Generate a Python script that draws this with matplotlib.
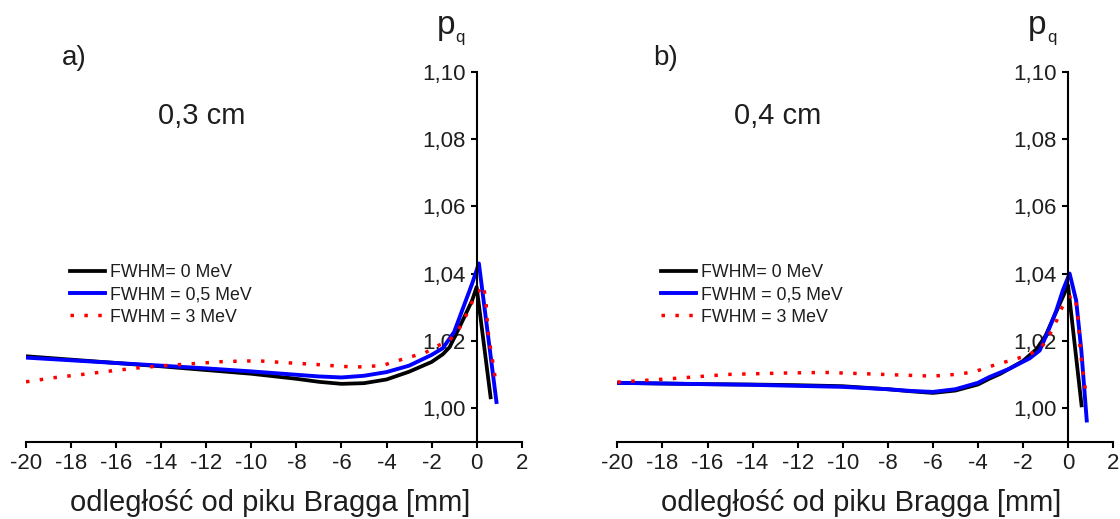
import matplotlib
matplotlib.use("Agg")
import matplotlib.pyplot as plt
from matplotlib.ticker import FixedLocator, FuncFormatter

plt.rcParams["font.family"] = ["Liberation Sans", "DejaVu Sans"]
plt.rcParams["axes.unicode_minus"] = False

# ---- data -------------------------------------------------------------
labels = ["FWHM= 0 MeV", "FWHM = 0,5 MeV", "FWHM = 3 MeV"]
panel_tags = ["a)", "b)"]
panel_titles = ["0,3 cm", "0,4 cm"]
x_ticks = list(range(-20, 3, 2))
y_ticks = [1.00, 1.02, 1.04, 1.06, 1.08, 1.10]

# panel a) 0,3 cm
xa_k = [-20, -18, -16, -14, -12, -10, -8, -7, -6, -5, -4, -3, -2, -1.5, -1.2, -0.7, -0.2, 0, 0.62]
ya_k = [1.0154, 1.0144, 1.0134, 1.0124, 1.0113, 1.0102, 1.0087, 1.0078, 1.0072, 1.0074,
        1.0085, 1.0108, 1.0137, 1.0160, 1.0181, 1.0249, 1.0320, 1.0360, 1.0032]
xa_b = [-20, -18, -16, -14, -12, -10, -8, -7, -6, -5, -4, -3, -2, -1.5, -1, -0.6, -0.2, 0.1, 0.88]
ya_b = [1.0150, 1.0142, 1.0134, 1.0126, 1.0118, 1.0109, 1.0099, 1.0094, 1.0091, 1.0096,
        1.0107, 1.0126, 1.0158, 1.0178, 1.0226, 1.0298, 1.0370, 1.0430, 1.0018]
xa_r = [-20, -18.8, -17.5, -16.4, -15.1, -13.9, -12.6, -11.3, -10.2, -9.6, -8.5, -7.2, -6.0,
        -5.3, -4.85, -4.2, -3.6, -2.95, -2.3, -1.8, -1.2, -0.75, -0.45, -0.2, 0.0, 0.3,
        0.41, 0.49, 0.56, 0.67, 0.77, 0.84]
ya_r = [1.0078, 1.0090, 1.0100, 1.0109, 1.0119, 1.0126, 1.0132, 1.0138, 1.0140, 1.0140,
        1.0135, 1.0130, 1.0124, 1.0122, 1.0124, 1.0126, 1.0139, 1.0152, 1.0164, 1.0183,
        1.0201, 1.0239, 1.0278, 1.0315, 1.0340, 1.0365, 1.0320, 1.0239, 1.0201, 1.0156,
        1.0117, 1.0077]

# panel b) 0,4 cm
xb_k = [-20, -18, -16, -14, -12, -10, -8, -7, -6, -5, -4, -3.5, -3, -2, -1.4, -1, -0.5, 0, 0.6]
yb_k = [1.0075, 1.0073, 1.0071, 1.0070, 1.0068, 1.0065, 1.0056, 1.0050, 1.0045, 1.0052,
        1.0070, 1.0087, 1.0102, 1.0140, 1.0175, 1.0215, 1.0290, 1.0365, 1.0008]
xb_b = [-20, -18, -16, -14, -12, -10, -8, -7, -6, -5, -4, -3.5, -2.6, -1.7, -1.26, -0.9,
        -0.52, -0.23, 0.07, 0.36, 0.59, 0.83]
yb_b = [1.0075, 1.0073, 1.0071, 1.0069, 1.0066, 1.0063, 1.0056, 1.0051, 1.0048, 1.0056,
        1.0075, 1.0092, 1.0117, 1.0148, 1.0171, 1.0226, 1.0290, 1.0350, 1.0400, 1.0320,
        1.0171, 0.9963]
xb_r = [-20, -17.5, -15.1, -12.7, -10.8, -9.0, -7.8, -6.0, -4.8, -4.1, -3.55, -2.95, -2.37,
        -1.78, -1.19, -0.82, -0.52, -0.26, 0.05, 0.3, 0.41, 0.47, 0.5, 0.55, 0.62, 0.7, 0.78]
yb_r = [1.0077, 1.0088, 1.0100, 1.0104, 1.0106, 1.0102, 1.0099, 1.0095, 1.0101, 1.0109,
        1.0122, 1.0134, 1.0145, 1.0157, 1.0179, 1.0218, 1.0258, 1.0300, 1.0330, 1.0335,
        1.0290, 1.0248, 1.0208, 1.0167, 1.0129, 1.0092, 1.0049]

panels = [
    ((xa_k, ya_k), (xa_b, ya_b), (xa_r, ya_r)),
    ((xb_k, yb_k), (xb_b, yb_b), (xb_r, yb_r)),
]

# ---- figure -----------------------------------------------------------
W, H = 1120, 519
fig = plt.figure(figsize=(W / 100, H / 100), dpi=100)


def fx(px):
    return px / W


def fy(py):
    return 1 - py / H


TEXT = "#1e1e1e"
ax_left_px = [26.0, 617.4]
ax_w_px = 495.7
ax_top_px, ax_bot_px = 71.7, 441.7
styles = [
    dict(color="black", lw=2.7, ls="-"),
    dict(color="#0000ff", lw=2.8, ls="-"),
    dict(color="#ff0000", lw=2.5, ls=(0, (1, 3.0))),
]

for i, series in enumerate(panels):
    ax = fig.add_axes([fx(ax_left_px[i]), fy(ax_bot_px), ax_w_px / W,
                       (ax_bot_px - ax_top_px) / H])
    handles = []
    for (xs, ys), st in zip(series, styles):
        (ln,) = ax.plot(xs, ys, color=st["color"], lw=st["lw"], linestyle=st["ls"],
                        solid_joinstyle="round")
        handles.append(ln)

    ax.set_xlim(-20, 2)
    ax.set_ylim(0.99, 1.10)
    ax.xaxis.set_major_locator(FixedLocator(x_ticks))
    ax.yaxis.set_major_locator(FixedLocator(y_ticks))
    ax.yaxis.set_major_formatter(FuncFormatter(lambda v, p: f"{v:.2f}".replace(".", ",")))
    ax.xaxis.set_major_formatter(FuncFormatter(lambda v, p: f"{int(round(v))}"))

    for s in ("top", "right"):
        ax.spines[s].set_visible(False)
    ax.spines["left"].set_position(("data", 0))
    for s in ("left", "bottom"):
        ax.spines[s].set_linewidth(1.5)
    ax.tick_params(direction="out", length=4.5, width=1.5, labelsize=16,
                   colors="black", labelcolor=TEXT, pad=3.5)
    ax.patch.set_alpha(0)

    # legend
    ax.legend(handles, labels, loc="upper left",
              bbox_to_anchor=(fx(ax_left_px[i] + 44), fy(264)),
              bbox_transform=fig.transFigure, frameon=False, fontsize=12.8,
              handlelength=1.95, handletextpad=0.3, labelspacing=0.3,
              borderpad=0, borderaxespad=0, labelcolor=TEXT)

    axis_px = ax_left_px[i] + ax_w_px * 20 / 22
    # axis title p_q
    fig.text(fx(axis_px - 40), fy(34), "p", fontsize=24, color=TEXT, va="baseline", ha="left")
    fig.text(fx(axis_px - 21), fy(42), "q", fontsize=12, color=TEXT, va="baseline", ha="left")

    # panel tag and thickness
    fig.text(fx(ax_left_px[i] + 36), fy(58), panel_tags[i], fontsize=20, color=TEXT,
             va="center", ha="left")
    title_cx = [201.5, 777.5][i]
    fig.text(fx(title_cx), fy(116), panel_titles[i], fontsize=21, color=TEXT,
             va="center", ha="center")

    # x axis label
    fig.text(fx(ax_left_px[i] + ax_w_px / 2 - 4), fy(511), "odległość od piku Bragga [mm]",
             fontsize=21, color=TEXT, va="baseline", ha="center")

fig.savefig("out.png", dpi=100)
